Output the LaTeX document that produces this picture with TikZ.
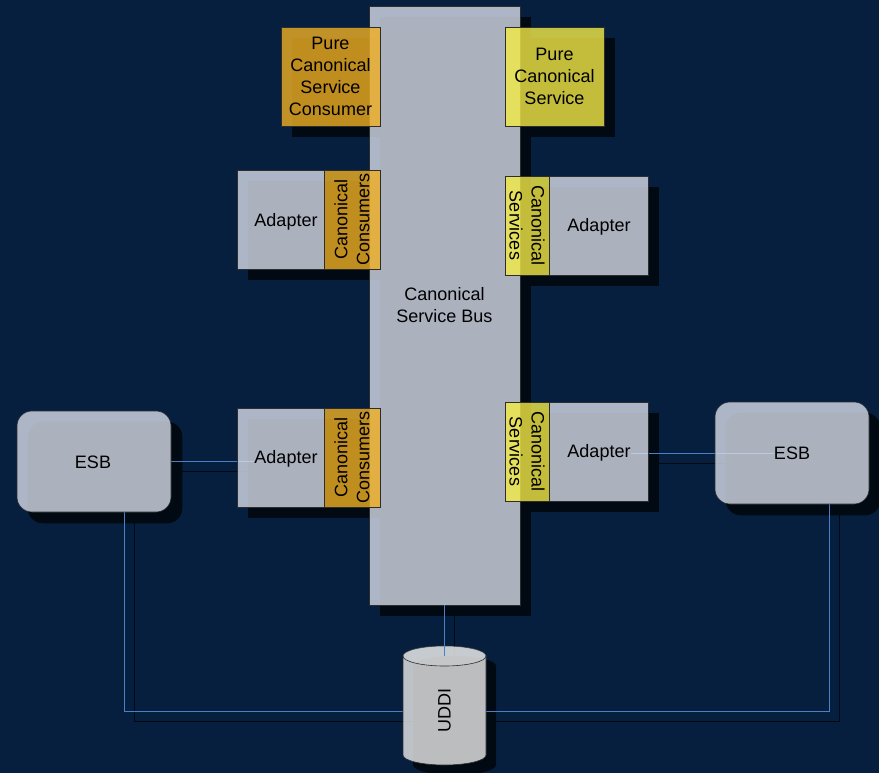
\documentclass[tikz,border=0pt]{standalone}
\usepackage{fontspec}
\setmainfont{Liberation Sans}
\usetikzlibrary{calc}
\definecolor{navy}{RGB}{7,31,63}
\definecolor{shcol}{RGB}{1,9,19}
\definecolor{boxgray}{RGB}{215,220,233}
\definecolor{cons}{RGB}{240,175,35}
\definecolor{serv}{RGB}{244,235,70}
\definecolor{cylc}{RGB}{235,235,235}
\definecolor{link}{RGB}{77,127,196}
\definecolor{edge}{RGB}{45,45,45}
\pgfdeclarelayer{bg}\pgfdeclarelayer{shad}\pgfdeclarelayer{lines}
\pgfsetlayers{bg,shad,lines,main}
\tikzset{
  shape base/.style={rectangle, draw=edge, line width=0.6pt, fill opacity=0.8, text opacity=1,
    inner sep=0pt, align=center, font=\fontsize{18}{22}\selectfont},
  gbox/.style={shape base, fill=boxgray},
  obox/.style={shape base, fill=cons},
  ybox/.style={shape base, fill=serv},
  txt/.style={inner sep=0pt, align=center, font=\fontsize{18}{22}\selectfont},
  conn/.style={draw=link, line width=1pt},
  shconn/.style={draw=shcol, line width=1pt, transform canvas={shift={(10pt,-10pt)}}},
  shfill/.style={fill=shcol, transform canvas={shift={(11pt,-11pt)}}},
}
\begin{document}
\begin{tikzpicture}[x=1pt,y=-1pt]
\begin{pgfonlayer}{bg}
\fill[navy] (0,0) rectangle (879,773);
\end{pgfonlayer}
\useasboundingbox (0,0) rectangle (879,773);

% bus
\node[gbox, minimum width=151pt, minimum height=599pt] (bus) at (444.5,305.5) {Canonical\\Service Bus};
% pure boxes
\node[obox, minimum width=99pt, minimum height=99pt] (pcc) at (330.5,76.5) {Pure\\Canonical\\Service\\Consumer};
\node[ybox, minimum width=99pt, minimum height=99pt] (pcs) at (554.5,76.5) {Pure\\Canonical\\Service};
% adapters
\node[gbox, minimum width=87pt, minimum height=99pt] (adTL) at (280.5,219.5) {};
\node[txt] (adTLt) at (286,222) {Adapter};
\node[obox, rotate=90, minimum width=99pt, minimum height=56pt] (ccTL) at (352,219.5) {Canonical\\Consumers};
\node[gbox, minimum width=99pt, minimum height=99pt] (adTR) at (598.5,225.5) {};
\node[txt] (adTRt) at (599,227) {Adapter};
\node[ybox, rotate=-90, minimum width=99pt, minimum height=44pt] (csTR) at (527,225.5) {Canonical\\Services};
\node[gbox, minimum width=87pt, minimum height=99pt] (adBL) at (280.5,457.5) {};
\node[txt] (adBLt) at (286,459) {Adapter};
\node[obox, rotate=90, minimum width=99pt, minimum height=56pt] (ccBL) at (352,457.5) {Canonical\\Consumers};
\node[gbox, minimum width=99pt, minimum height=99pt] (adBR) at (598.5,451.5) {};
\node[txt] (adBRt) at (599,453) {Adapter};
\node[ybox, rotate=-90, minimum width=99pt, minimum height=44pt] (csBR) at (527,451.5) {Canonical\\Services};
% ESBs
\node[gbox, rounded corners=15pt, minimum width=154pt, minimum height=101pt] (esbL) at (94,461.5) {};
\node[txt] (esbLt) at (93,462) {ESB};
\node[gbox, rounded corners=15pt, minimum width=154pt, minimum height=102pt] (esbR) at (792,453) {};
\node[txt] (esbRt) at (792,453) {ESB};
% UDDI cylinder
\coordinate (utop) at (444.5,656);
\coordinate (ul) at (403,711);
\coordinate (ur) at (486,711);
\path[fill=cylc, fill opacity=0.8, draw=edge, line width=0.6pt]
  (403,656) arc[start angle=180,end angle=0,x radius=41.5pt,y radius=10pt]
  -- (486,755) arc[start angle=0,end angle=-180,x radius=41.5pt,y radius=10pt] -- cycle;
\fill[white, fill opacity=0.15] (utop) ellipse[x radius=41.5pt, y radius=10pt];
\draw[edge, line width=0.6pt] (403,656) arc[start angle=180,end angle=360,x radius=41.5pt,y radius=10pt];
\node[txt, rotate=90] (uddi) at (444.5,710) {UDDI};
\draw[conn] (bus.south -| utop) -- (utop);

% connectors
\begin{pgfonlayer}{lines}
\draw[conn] (esbL.east) -- (esbL.east -| adBLt.west);
\draw[conn] (adBRt.east) -- (adBRt.east -| esbRt.west);
\draw[conn] ([xshift=30pt]esbL.south) |- (ul);
\draw[conn] (ur) -| ([xshift=37pt]esbR.south);
\end{pgfonlayer}

% shadows
\begin{pgfonlayer}{shad}
\draw[shconn] (esbL.east) -- (esbL.east -| adBLt.west);
\draw[shconn] (adBRt.east) -- (adBRt.east -| esbRt.west);
\draw[shconn] ([xshift=30pt]esbL.south) |- (ul);
\draw[shconn] (ur) -| ([xshift=37pt]esbR.south);
\draw[shconn] (bus.south -| utop) -- (utop);
\foreach \n in {bus,pcc,pcs,adTL,ccTL,adTR,csTR,adBL,ccBL,adBR,csBR}
  \path[shfill] (\n.north west) rectangle (\n.south east);
\path[shfill, rounded corners=15pt] (esbL.north west) rectangle (esbL.south east);
\path[shfill, rounded corners=15pt] (esbR.north west) rectangle (esbR.south east);
\path[fill=shcol, transform canvas={shift={(10pt,-10pt)}}]
  (403,656) arc[start angle=180,end angle=0,x radius=41.5pt,y radius=10pt]
  -- (486,755) arc[start angle=0,end angle=-180,x radius=41.5pt,y radius=10pt] -- cycle;
\end{pgfonlayer}
\end{tikzpicture}
\end{document}
